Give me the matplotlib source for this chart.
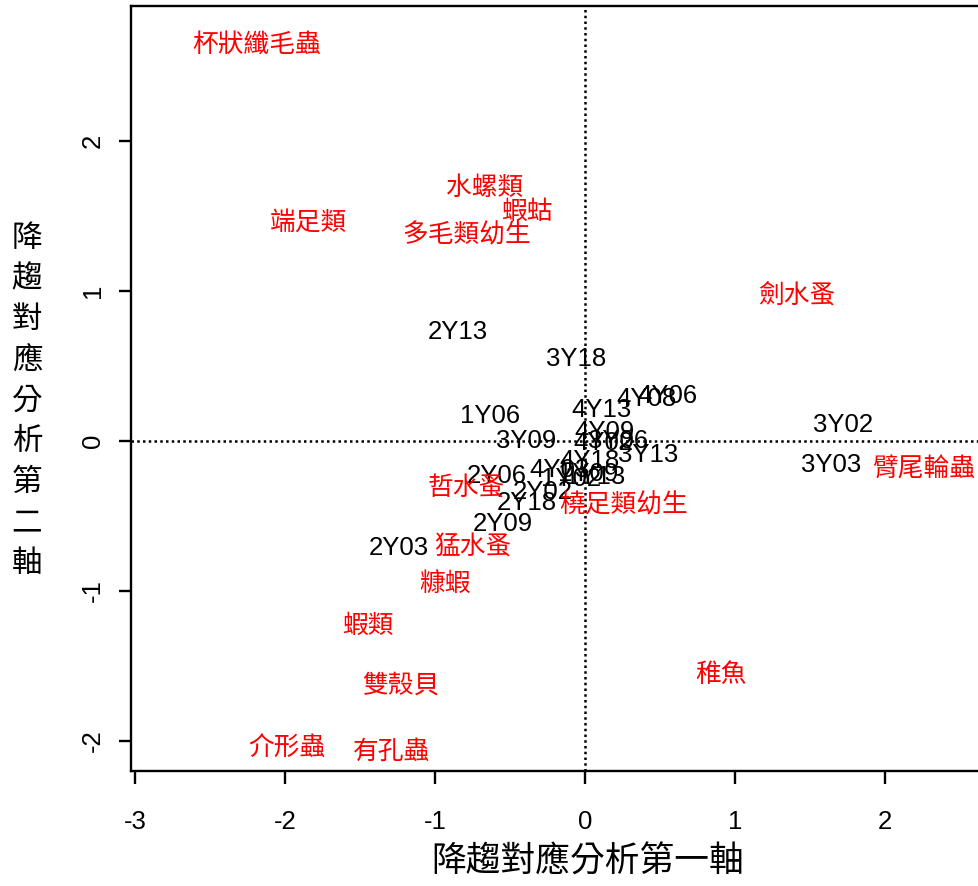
import matplotlib
matplotlib.use("Agg")
import matplotlib.pyplot as plt

# 樣站得分 (DCA axis 1, axis 2)
site_names = ["2Y13", "3Y18", "1Y06", "3Y09", "4Y13", "4Y08", "4Y06",
              "3Y02", "3Y03", "4Y09", "4Y02", "3Y06", "3Y13", "4Y18",
              "4Y03", "1Y02", "1Y09", "1Y13", "2Y06", "2Y02", "2Y18",
              "2Y09", "2Y03"]
site_x = [-0.85, -0.06, -0.63, -0.39, 0.11, 0.41, 0.55,
          1.72, 1.64, 0.13, 0.12, 0.22, 0.42, 0.03,
          -0.17, -0.09, 0.02, 0.07, -0.59, -0.28, -0.39,
          -0.55, -1.24]
site_y = [0.73, 0.55, 0.17, 0.00, 0.21, 0.28, 0.30,
          0.11, -0.16, 0.06, -0.01, 0.00, -0.09, -0.13,
          -0.19, -0.25, -0.22, -0.24, -0.23, -0.34, -0.41,
          -0.55, -0.71]

# 物種得分
sp_names = ["杯狀纖毛蟲", "端足類", "水螺類", "蝦蛄", "多毛類幼生", "劍水蚤",
            "臂尾輪蟲", "哲水蚤", "橈足類幼生", "猛水蚤", "糠蝦", "蝦類",
            "雙殼貝", "稚魚", "介形蟲", "有孔蟲"]
sp_x = [-2.19, -1.84, -0.67, -0.39, -0.79, 1.41,
        2.26, -0.79, 0.26, -0.75, -0.93, -1.45,
        -1.23, 0.91, -1.99, -1.29]
sp_y = [2.64, 1.45, 1.69, 1.53, 1.37, 0.96,
        -0.19, -0.31, -0.43, -0.71, -0.95, -1.23,
        -1.63, -1.56, -2.05, -2.07]

xticks = [-3, -2, -1, 0, 1, 2]
yticks = [-2, -1, 0, 1, 2]

cjk = ["Noto Sans CJK TC", "DejaVu Sans"]
latin = ["Liberation Sans", "DejaVu Sans"]

fig = plt.figure(figsize=(9.79, 8.86), dpi=100)
ax = fig.add_axes([0.1338, 0.1298, 0.8876, 0.8634])
ax.set_xlim(-3.027, 2.767)
ax.set_ylim(-2.2, 2.9)

ax.axhline(0, color="black", linestyle=(0, (1, 1.3)), linewidth=1.8)
ax.axvline(0, color="black", linestyle=(0, (1, 1.3)), linewidth=1.8)

for name, x, y in zip(site_names, site_x, site_y):
    ax.text(x, y, name, ha="center", va="center", fontsize=18.5,
            family=latin, color="black")

for name, x, y in zip(sp_names, sp_x, sp_y):
    ax.text(x, y, name, ha="center", va="center", fontsize=18.5,
            family=cjk, color="red")

for s in ax.spines.values():
    s.set_linewidth(1.7)

ax.set_xticks(xticks)
ax.set_yticks(yticks)
ax.set_xticklabels([str(t) for t in xticks], family=latin, fontsize=18.5)
ax.set_yticklabels([str(t) for t in yticks], family=latin, fontsize=18.5,
                   rotation=90, va="center")
ax.tick_params(axis="x", length=9, width=1.7, pad=19)
ax.tick_params(axis="y", length=9, width=1.7, pad=10)

fig.text(588 / 979, 1 - 862 / 886, "降趨對應分析第一軸", ha="center",
         va="center", fontsize=25, family=cjk)
fig.text(27 / 979, 1 - 401 / 886, "\n".join("降趨對應分析第二軸"),
         ha="center", va="center", fontsize=22, family=cjk,
         linespacing=1.4)

fig.savefig("out.png", dpi=100)
